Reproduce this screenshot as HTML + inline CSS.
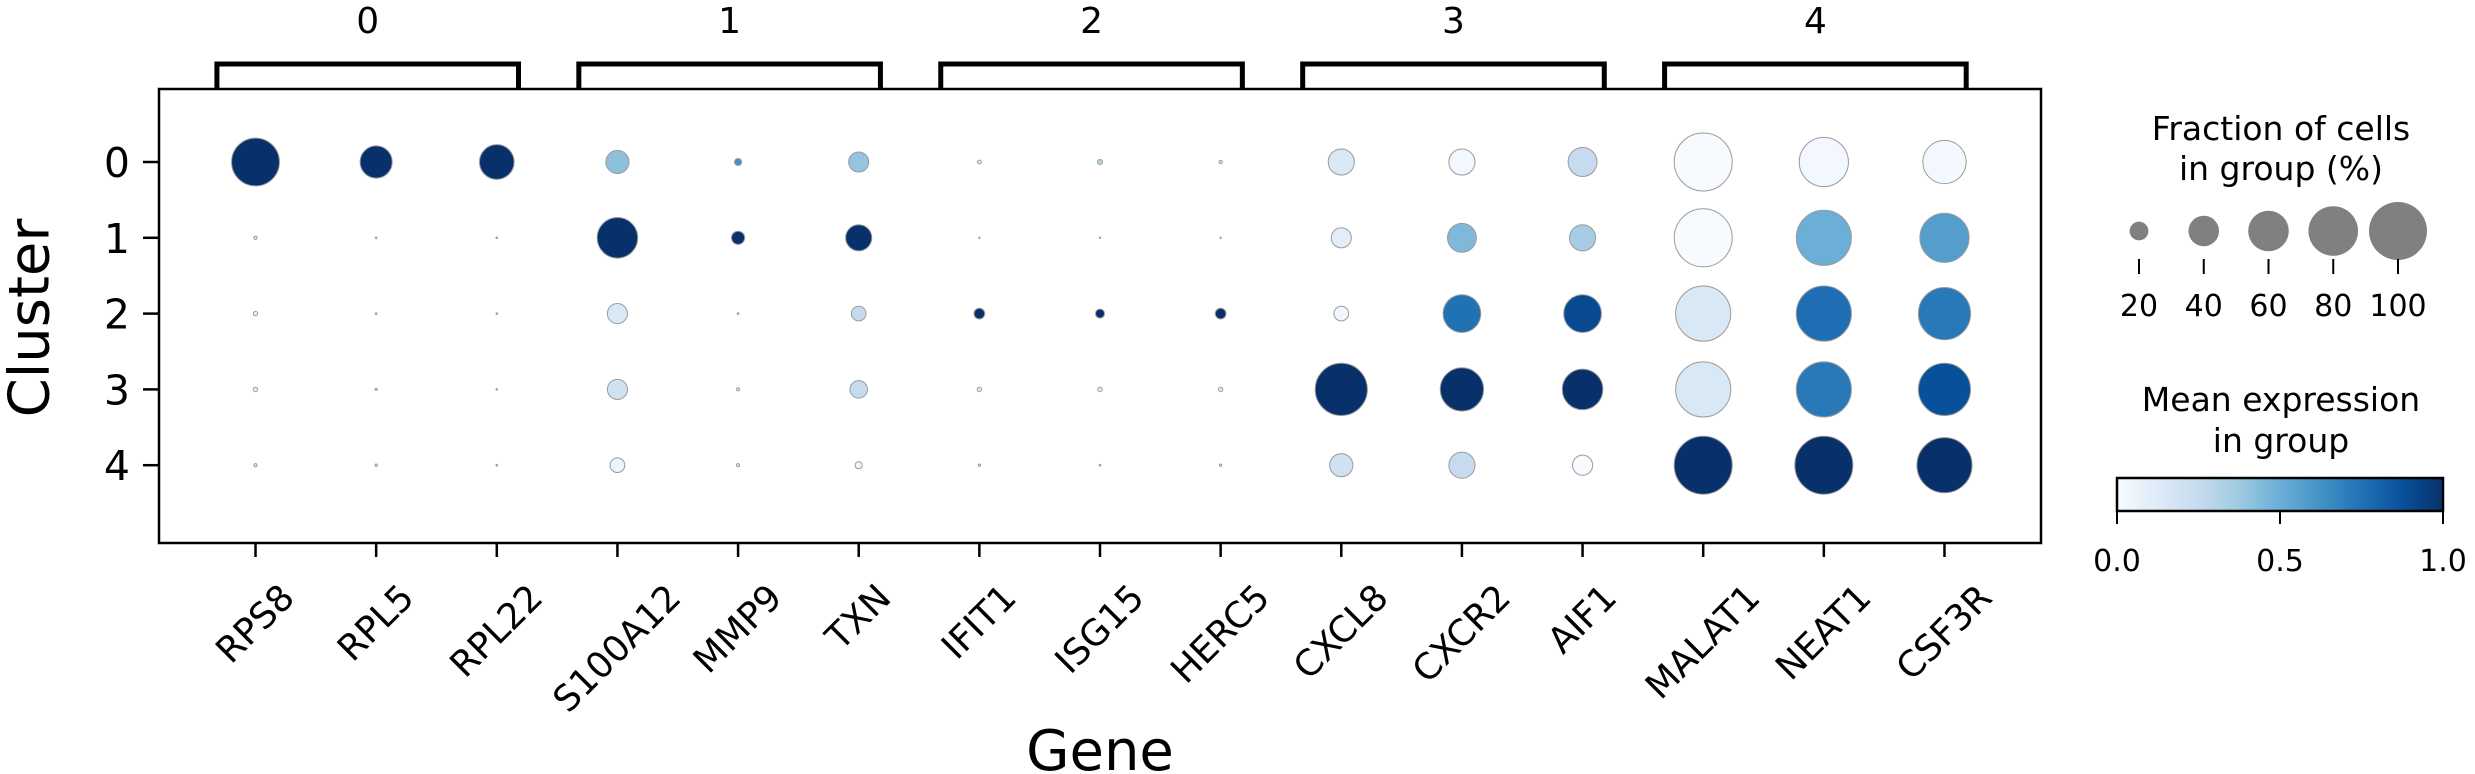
<!DOCTYPE html>
<html><head><meta charset="utf-8"><style>
html,body{margin:0;padding:0;background:#fff;}
svg{display:block;font-family:"DejaVu Sans","Liberation Sans",sans-serif;}
</style></head><body>
<svg id="chart" width="2475" height="774" viewBox="0 0 2475 774" xmlns="http://www.w3.org/2000/svg">
<defs><linearGradient id="blues" x1="0" x2="1" y1="0" y2="0">
<stop offset="0" stop-color="#f7fbff"/><stop offset="0.125" stop-color="#deebf7"/><stop offset="0.25" stop-color="#c6dbef"/><stop offset="0.375" stop-color="#9ecae1"/><stop offset="0.5" stop-color="#6baed6"/><stop offset="0.625" stop-color="#4292c6"/><stop offset="0.75" stop-color="#2171b5"/><stop offset="0.875" stop-color="#08519c"/><stop offset="1" stop-color="#08306b"/>
</linearGradient></defs>
<g id="plot"></g>
</svg>
<script>
const genes = ["RPS8","RPL5","RPL22","S100A12","MMP9","TXN","IFIT1","ISG15","HERC5","CXCL8","CXCR2","AIF1","MALAT1","NEAT1","CSF3R"];
const clusters = ["0","1","2","3","4"];
const groupLabels = ["0","1","2","3","4"];
const fraction = [
 [0.76,0.43,0.48,0.27,0.05,0.22,0.02,0.03,0.015,0.32,0.32,0.37,1.0,0.79,0.66],
 [0.015,0.006,0.006,0.60,0.12,0.32,0.005,0.005,0.005,0.22,0.37,0.32,1.0,0.93,0.79],
 [0.025,0.006,0.006,0.22,0.006,0.14,0.09,0.07,0.09,0.14,0.54,0.54,0.93,0.93,0.86],
 [0.025,0.01,0.006,0.22,0.015,0.18,0.025,0.025,0.025,0.86,0.66,0.60,0.93,0.93,0.86],
 [0.015,0.01,0.006,0.14,0.015,0.05,0.01,0.006,0.01,0.27,0.32,0.22,1.0,1.0,0.93]
];
const expression = [
 [1,1,1,0.42,0.62,0.4,0.12,0.3,0.08,0.15,0.02,0.25,0.0,0.02,0.02],
 [0.1,0.1,0.1,1,1,1,0.1,0.1,0.1,0.1,0.45,0.35,0.0,0.5,0.57],
 [0.08,0.1,0.1,0.15,0.1,0.25,1,1,1,0.03,0.75,0.9,0.15,0.76,0.72],
 [0.08,0.1,0.1,0.2,0.1,0.25,0.1,0.1,0.1,1,1,1,0.15,0.72,0.88],
 [0.1,0.1,0.1,0.05,0.1,0.05,0.1,0.1,0.1,0.2,0.25,0.0,1,1,1]
];
const sizeTicks = [20,40,60,80,100];
const colorTicks = ["0.0","0.5","1.0"];

const NS="http://www.w3.org/2000/svg";
const root=document.getElementById('plot');
function mk(tag,attrs,parent){const e=document.createElementNS(NS,tag);for(const k in attrs)e.setAttribute(k,attrs[k]);(parent||root).appendChild(e);return e;}
const stops=["#f7fbff","#deebf7","#c6dbef","#9ecae1","#6baed6","#4292c6","#2171b5","#08519c","#08306b"].map(h=>[1,3,5].map(i=>parseInt(h.substr(i,2),16)));
function blues(v){v=Math.max(0,Math.min(1,v));const t=v*8;const i=Math.min(7,Math.floor(t));const f=t-i;const a=stops[i],b=stops[i+1];return `rgb(${a.map((c,k)=>Math.round(c+(b[k]-c)*f)).join(',')})`;}
const L=159,R=2041,T=89,B=543;
const sp=(R-L)/15.6;
function xPos(i){return L+sp*(0.8+i);}
function yPos(j){return 162+75.8*j;}
function dia(f){return 58*Math.pow(f,0.7);}

const frame=mk('rect',{x:L,y:T,width:R-L,height:B-T,fill:'none',stroke:'#000','stroke-width':2.5});



groupLabels.forEach((g,k)=>{
  const x1=xPos(3*k)-0.32*sp, x2=xPos(3*k+2)+0.18*sp;
  const p=mk('path',{d:`M${x1},${T} L${x1},64 L${x2},64 L${x2},${T}`,fill:'none',stroke:'#000','stroke-width':5});
  
  
  const t=mk('text',{x:(x1+x2)/2,y:33,'text-anchor':'middle','font-size':36});
  t.textContent=g;
  
  
});

clusters.forEach((c,j)=>{
  const y=yPos(j);
  mk('line',{x1:143,x2:L,y1:y,y2:y,stroke:'#000','stroke-width':2.5});
  const t=mk('text',{x:130,y:y+15,'text-anchor':'end','font-size':41});
  t.textContent=c;
  
  
});
genes.forEach((g,i)=>{
  const x=xPos(i);
  mk('line',{x1:x,x2:x,y1:B,y2:557,stroke:'#000','stroke-width':2.5});
  const t=mk('text',{x:0,y:0,'text-anchor':'middle','dominant-baseline':'central','font-size':36});
  t.textContent=g;
  
  
  const len=t.getComputedTextLength();
  const h=27;
  const cy=582+(len+h)/(2*Math.SQRT2);
  t.setAttribute('transform',`translate(${x},${cy}) rotate(-45)`);
});
clusters.forEach((c,j)=>{genes.forEach((g,i)=>{
  const d=dia(fraction[j][i]);
  const e=mk('circle',{cx:xPos(i),cy:yPos(j),r:d/2,fill:blues(expression[j][i]),stroke:'#9a9a9a','stroke-width':1});
  
  
});});
const yt=mk('text',{x:0,y:0,'text-anchor':'middle','dominant-baseline':'central','font-size':56,transform:'translate(30,318) rotate(-90)'});
yt.textContent='Cluster';


const xt=mk('text',{x:1100,y:770,'text-anchor':'middle','font-size':56});
xt.textContent='Gene';



const lx0=2139, lsp=(2398-2139)/4;
[["Fraction of cells",140],["in group (%)",180]].forEach(([s,y],k)=>{
  const t=mk('text',{x:2281,y:y,'text-anchor':'middle','font-size':33});
  t.textContent=s;
  
  
});
sizeTicks.forEach((v,k)=>{
  const x=lx0+lsp*k;
  const c=mk('circle',{cx:x,cy:231,r:dia(v/100)/2,fill:'#808080'});
  
  
  mk('line',{x1:x,x2:x,y1:259,y2:274,stroke:'#000','stroke-width':2});
  const t=mk('text',{x:x,y:316,'text-anchor':'middle','font-size':30});
  t.textContent=v;
  
  
});
[["Mean expression",411],["in group",452]].forEach(([s,y],k)=>{
  const t=mk('text',{x:2281,y:y,'text-anchor':'middle','font-size':33});
  t.textContent=s;
  
  
});
const cb=mk('rect',{x:2117,y:478,width:326,height:33,fill:'url(#blues)',stroke:'#000','stroke-width':2.5});


colorTicks.forEach((s,k)=>{
  const x=2117+326*parseFloat(s);
  mk('line',{x1:x,x2:x,y1:511,y2:524,stroke:'#000','stroke-width':2});
  const t=mk('text',{x:x,y:571,'text-anchor':'middle','font-size':30});
  t.textContent=s;
  
  
});
</script>
</body></html>
